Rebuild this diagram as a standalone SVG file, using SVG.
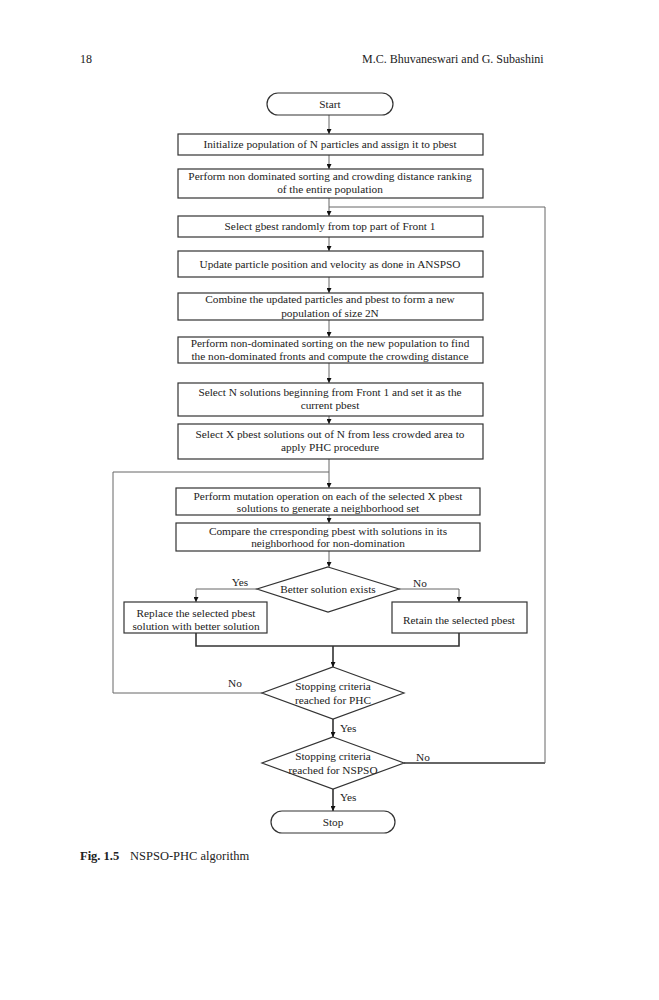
<svg xmlns="http://www.w3.org/2000/svg" width="659" height="1000" viewBox="0 0 659 1000">
<style>
text{font-family:"Liberation Serif","Times New Roman",serif;font-size:11.3px;fill:#222;text-anchor:middle}
.hdr{font-size:12px;text-anchor:start}
.box{fill:#fff;stroke:#333;stroke-width:1.2}
.ln{fill:none;stroke:#666;stroke-width:1}
.thk{fill:none;stroke:#333;stroke-width:1.6}
.lbl{text-anchor:start}
</style>
<defs>
<marker id="ah" viewBox="0 0 10 10" refX="10" refY="5" markerWidth="5" markerHeight="5" markerUnits="userSpaceOnUse" orient="auto">
<path d="M0,0 L10,5 L0,10 z" fill="#111"/>
</marker>
</defs>
<rect width="659" height="1000" fill="#fff"/>
<text class="hdr" x="80" y="63">18</text>
<text class="hdr" x="362" y="63">M.C. Bhuvaneswari and G. Subashini</text>

<g id="connectors">
<path class="ln" d="M329,115 V134" marker-end="url(#ah)"/>
<path class="ln" d="M329,155 V169" marker-end="url(#ah)"/>
<path class="ln" d="M329,198 V216" marker-end="url(#ah)"/>
<path class="ln" d="M329,237 V251" marker-end="url(#ah)"/>
<path class="ln" d="M329,277 V293" marker-end="url(#ah)"/>
<path class="ln" d="M329,320 V337" marker-end="url(#ah)"/>
<path class="ln" d="M329,363 V383" marker-end="url(#ah)"/>
<path class="ln" d="M329,416 V424" marker-end="url(#ah)"/>
<path class="ln" d="M329,459 V488" marker-end="url(#ah)"/>
<path class="ln" d="M329,515 V523" marker-end="url(#ah)"/>
<path class="ln" d="M329,551 V567" marker-end="url(#ah)"/>
<path class="ln" d="M257,589 H196 V602" marker-end="url(#ah)"/>
<path class="ln" d="M399,589 H459 V602" marker-end="url(#ah)"/>
<path class="thk" d="M196,633 V646 H459 V633"/>
<path class="thk" d="M333,646 V667" marker-end="url(#ah)"/>
<path class="ln" d="M262,693 H113 V472 H329"/>
<path class="thk" d="M333,719 V737" marker-end="url(#ah)"/>
<path class="thk" d="M404,763 H545"/>
<path class="ln" d="M545,763 V207 H329"/>
<path class="thk" d="M333,789 V811" marker-end="url(#ah)"/>
</g>

<g id="start"><rect class="box" x="267" y="93" width="126" height="22" rx="11"/><text x="330" y="108">Start</text></g>
<g id="n1"><rect class="box" x="178" y="134" width="305" height="21"/><text x="330" y="148">Initialize population of N particles and assign it to pbest</text></g>
<g id="n2"><rect class="box" x="178" y="169" width="305" height="29"/><text x="330" y="180">Perform non dominated sorting and crowding distance ranking</text><text x="330" y="193">of the entire population</text></g>
<g id="n3"><rect class="box" x="178" y="216" width="305" height="21"/><text x="330" y="230">Select gbest randomly from top part of Front 1</text></g>
<g id="n4"><rect class="box" x="178" y="251" width="305" height="26"/><text x="330" y="268">Update particle position and velocity as done in ANSPSO</text></g>
<g id="n5"><rect class="box" x="178" y="293" width="305" height="27"/><text x="330" y="303">Combine the updated particles and pbest to form a new</text><text x="330" y="317">population of size 2N</text></g>
<g id="n6"><rect class="box" x="178" y="337" width="305" height="26"/><text x="330" y="347">Perform non-dominated sorting on the new population to find</text><text x="330" y="360">the non-dominated fronts and compute the crowding distance</text></g>
<g id="n7"><rect class="box" x="178" y="383" width="305" height="33"/><text x="330" y="396">Select N solutions beginning from Front 1 and set it as the</text><text x="330" y="409">current pbest</text></g>
<g id="n8"><rect class="box" x="178" y="424" width="305" height="35"/><text x="330" y="438">Select X pbest solutions out of N from less crowded area to</text><text x="330" y="451">apply PHC procedure</text></g>
<g id="n9"><rect class="box" x="176" y="488" width="304" height="27"/><text x="328" y="500">Perform mutation operation on each of the selected X pbest</text><text x="328" y="512">solutions to generate a neighborhood set</text></g>
<g id="n10"><rect class="box" x="176" y="523" width="304" height="28"/><text x="328" y="535">Compare the crresponding pbest with solutions in its</text><text x="328" y="547">neighborhood  for non-domination</text></g>
<g id="d1"><polygon class="box" points="328,567 399,589 328,612 257,589"/><text x="328" y="593">Better solution exists</text></g>
<g id="n11"><rect class="box" x="124" y="602" width="143" height="31"/><text x="196" y="617">Replace the selected pbest</text><text x="196" y="630">solution with better solution</text></g>
<g id="n12"><rect class="box" x="392" y="602" width="135" height="31"/><text x="459" y="624">Retain the selected pbest</text></g>
<g id="d2"><polygon class="box" points="333,667 404,693 333,719 262,693"/><text x="333" y="690">Stopping criteria</text><text x="333" y="704">reached for PHC</text></g>
<g id="d3"><polygon class="box" points="333,737 404,763 333,789 262,763"/><text x="333" y="760">Stopping criteria</text><text x="333" y="774">reached for NSPSO</text></g>
<g id="stop"><rect class="box" x="271" y="811" width="124" height="22" rx="11"/><text x="333" y="826">Stop</text></g>

<g id="labels">
<text x="240" y="586">Yes</text>
<text x="420" y="587">No</text>
<text x="235" y="687">No</text>
<text class="lbl" x="340" y="732">Yes</text>
<text x="423" y="761">No</text>
<text class="lbl" x="340" y="801">Yes</text>
</g>

<text class="hdr" x="80" y="860" style="font-weight:bold;font-size:12.5px">Fig. 1.5</text>
<text class="hdr" x="130" y="860" style="font-size:12.5px">NSPSO-PHC algorithm</text>
</svg>
